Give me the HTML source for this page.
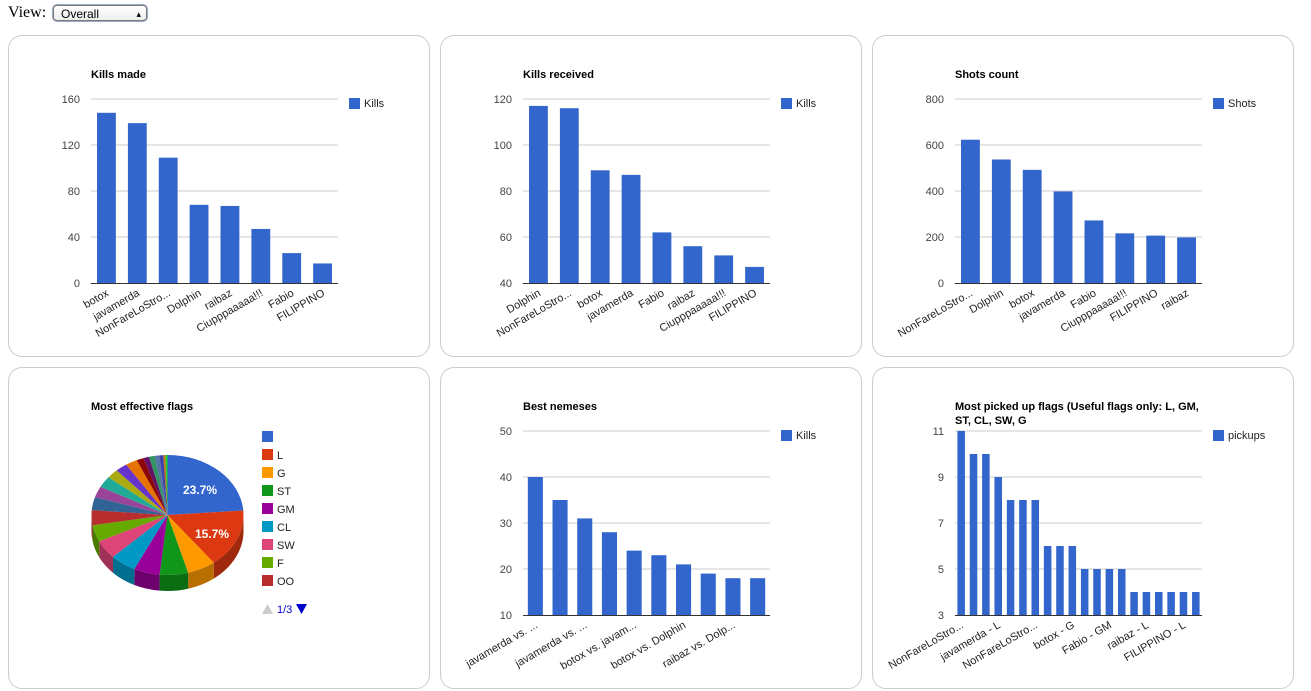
<!DOCTYPE html>
<html><head><meta charset="utf-8">
<style>
body{margin:0;background:#fff;font-family:"Liberation Sans",Arial,sans-serif;width:1311px;height:691px;overflow:hidden;position:relative}
.view{position:absolute;left:8px;top:4px;font-family:"Liberation Serif",serif;font-size:16px}
.sel{position:absolute;left:53px;top:5px;width:94px;height:16px;border:1px solid #7a7a7a;border-radius:4px;box-shadow:0 0 0 1px #9aa9c8;font-family:"Liberation Sans",sans-serif;font-size:12px;line-height:16px;padding-left:7px;box-sizing:border-box;background:linear-gradient(#fff,#eee)}
.sel span{position:absolute;right:5px;top:0;font-size:9px}
.panel{position:absolute;width:420px;height:320px;border:1px solid #ccc;border-radius:14px}
svg{position:absolute;left:0;top:0}
</style></head><body>
<div class="view">View:</div>
<div class="sel">Overall<span>&#x25B4;<br></span></div>
<div class="panel" style="left:8px;top:35px"></div>
<div class="panel" style="left:440px;top:35px"></div>
<div class="panel" style="left:872px;top:35px"></div>
<div class="panel" style="left:8px;top:367px"></div>
<div class="panel" style="left:440px;top:367px"></div>
<div class="panel" style="left:872px;top:367px"></div>
<svg id="s" width="1311" height="691" xmlns="http://www.w3.org/2000/svg" font-family="Liberation Sans, Arial, sans-serif"></svg>
<script>
const killsMadeCats=["botox","javamerda","NonFareLoStro...","Dolphin","raibaz","Ciupppaaaaa!!!","Fabio","FILIPPINO"];
const killsMadeVals=[148,139,109,68,67,47,26,17];
const killsMadeTicks=[0,40,80,120,160];
const killsRecCats=["Dolphin","NonFareLoStro...","botox","javamerda","Fabio","raibaz","Ciupppaaaaa!!!","FILIPPINO"];
const killsRecVals=[117,116,89,87,62,56,52,47];
const killsRecTicks=[40,60,80,100,120];
const shotsCats=["NonFareLoStro...","Dolphin","botox","javamerda","Fabio","Ciupppaaaaa!!!","FILIPPINO","raibaz"];
const shotsVals=[623,537,492,398,272,216,206,198];
const shotsTicks=[0,200,400,600,800];
const nemCats=["javamerda vs. ...","","javamerda vs. ...","","botox vs. javam...","","botox vs. Dolphin","","raibaz vs. Dolp...",""];
const nemVals=[40,35,31,28,24,23,21,19,18,18];
const nemTicks=[10,20,30,40,50];
const pickCats=["NonFareLoStro...","","","javamerda - L","","","NonFareLoStro...","","","botox - G","","","Fabio - GM","","","raibaz - L","","","FILIPPINO - L",""];
const pickVals=[11,10,10,9,8,8,8,6,6,6,5,5,5,5,4,4,4,4,4,4];
const pickTicks=[3,5,7,9,11];
const pieLabels=["","L","G","ST","GM","CL","SW","F","OO"];
const pieVals=[23.7,15.7,6,6,5.5,5.5,5,4.5,4,3.5,3,3,2.5,2.5,2.5,1.5,1.2,1.2,1,0.8,0.5,0.4];
const pieColors=["#3366cc","#dc3912","#ff9900","#109618","#990099","#0099c6","#dd4477","#66aa00","#b82e2e","#316395","#994499","#22aa99","#aaaa11","#6633cc","#e67300","#8b0707","#651067","#329262","#5574a6","#3b3eac","#b77322","#16d620"];

const NS="http://www.w3.org/2000/svg";
const svg=document.getElementById('s');
function mk(tag,attrs,parent){const e=document.createElementNS(NS,tag);for(const k in attrs)e.setAttribute(k,attrs[k]);(parent||svg).appendChild(e);return e;}
function txt(x,y,s,attrs){const t=mk('text',Object.assign({x:x,y:y,'font-size':11},attrs||{}));t.textContent=s;return t;}

function barChart(ox,oy,title,title2,cats,vals,ticks,legend,key){
  const x0=ox+91,x1=ox+338,yt=oy+99,yb=oy+283;
  const min=ticks[0],max=ticks[ticks.length-1];
  const ys=v=>yb-(v-min)/(max-min)*(yb-yt);
  const tt=txt(ox+91,oy+78,title,{'font-weight':'bold','fill':'#000'});
  
  
  if(title2){const t2=txt(ox+91,oy+92,title2,{'font-weight':'bold','fill':'#000'});
    
    }
  ticks.forEach(v=>{
    const y=ys(v);
    if(v!==min){const l=mk('line',{x1:x0,x2:x1,y1:y,y2:y,stroke:'#ccc','stroke-width':1});
      
      }
    const t=txt(ox+80,y+4,String(v),{'text-anchor':'end',fill:'#444'});
    
    
  });
  const slot=(x1-x0)/vals.length,bw=slot*0.61;
  vals.forEach((v,i)=>{
    const cx=x0+slot*(i+0.5);
    const r=mk('rect',{x:cx-bw/2,y:ys(v),width:bw,height:yb-ys(v),fill:'#3366cc'});
    
    
    if(cats[i]){const t=txt(cx+3,yb+12,cats[i],{'text-anchor':'end',fill:'#222',transform:`rotate(-30 ${cx+3} ${yb+12})`});
      
      }
  });
  const ax=mk('line',{x1:x0,x2:x1,y1:yb+0.5,y2:yb+0.5,stroke:'#333','stroke-width':1});
  
  
  const lr=mk('rect',{x:ox+349,y:oy+98,width:11,height:11,fill:'#3366cc'});
  
  
  const lt=txt(ox+364,oy+107,legend,{fill:'#222'});
  
  
}
barChart(0,0,"Kills made",null,killsMadeCats,killsMadeVals,killsMadeTicks,"Kills","kills-made");
barChart(432,0,"Kills received",null,killsRecCats,killsRecVals,killsRecTicks,"Kills","kills-received");
barChart(864,0,"Shots count",null,shotsCats,shotsVals,shotsTicks,"Shots","shots-count");
barChart(432,332,"Best nemeses",null,nemCats,nemVals,nemTicks,"Kills","best-nemeses");
barChart(864,332,"Most picked up flags (Useful flags only: L, GM,","ST, CL, SW, G",pickCats,pickVals,pickTicks,"pickups","picked-flags");

// pie
(function(){
  const cx=167.5,cy=515,rx=76,ry=60,d=16;
  const tt=txt(91,410,"Most effective flags",{'font-weight':'bold',fill:'#000'});
  
  
  const tot=pieVals.reduce((a,b)=>a+b,0);
  const P=(a,dy)=>[cx+rx*Math.sin(a),cy-ry*Math.cos(a)+(dy||0)];
  function shade(c){const n=parseInt(c.slice(1),16);const f=0.72;
    return `rgb(${Math.round((n>>16)*f)},${Math.round(((n>>8)&255)*f)},${Math.round((n&255)*f)})`;}
  let a=0;const sl=[];
  pieVals.forEach((v,i)=>{const a2=a+v/tot*2*Math.PI;sl.push([a,a2,pieColors[i%pieColors.length]]);a=a2;});
  sl.forEach(([s,e,c])=>{
    const s2=Math.max(s,Math.PI/2),e2=Math.min(e,3*Math.PI/2);
    if(e2<=s2)return;
    const p1=P(s2),p2=P(e2),p3=P(e2,d),p4=P(s2,d);
    const p=mk('path',{d:`M${p1}A${rx},${ry} 0 0 1 ${p2}L${p3}A${rx},${ry} 0 0 0 ${p4}Z`,fill:shade(c)});
    
    
  });
  sl.forEach(([s,e,c])=>{
    const p1=P(s),p2=P(e),large=(e-s)>Math.PI?1:0;
    const p=mk('path',{d:`M${cx},${cy}L${p1}A${rx},${ry} 0 ${large} 1 ${p2}Z`,fill:c});
    
    
  });
  [[0,200,494],[1,212,538]].forEach(([i,x,y])=>{
    const t=txt(x,y,(pieVals[i]).toFixed(1)+"%",{'text-anchor':'middle',fill:'#fff','font-weight':'bold','font-size':12});
    
    
  });
  pieLabels.forEach((l,i)=>{
    const y=431+i*18;
    const r=mk('rect',{x:262,y:y,width:11,height:11,fill:pieColors[i]});
    
    
    const t=txt(277,y+10,l,{fill:'#222'});
    
    
  });
  const up=mk('path',{d:'M262,614 L267.5,604 L273,614Z',fill:'#ccc'});
  
  
  const pg=txt(277,613,"1/3",{fill:'#0000cc'});
  
  
  const dn=mk('path',{d:'M296,604 L307,604 L301.5,614Z',fill:'#0000cc'});
  
  
})();
</script>
</body></html>
